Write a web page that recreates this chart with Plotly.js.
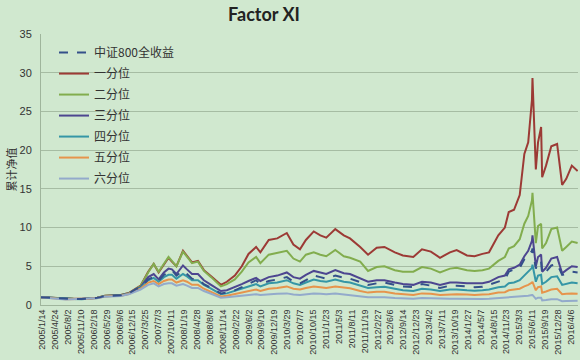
<!DOCTYPE html>
<html>
<head>
<meta charset="utf-8">
<script src="https://cdn.plot.ly/plotly-3.0.1.min.js"></script>
<style>html,body{margin:0;padding:0;background:#d0e8cf;}#chart{width:580px;height:360px;}</style>
</head>
<body>
<div id="chart"></div>
<script>
const dates = ["2005-01-04","2005-03-01","2005-05-01","2005-07-15","2005-09-15","2005-11-15","2006-01-15","2006-03-15","2006-05-15","2006-07-15","2006-09-15","2006-11-15","2007-01-15","2007-02-15","2007-04-15","2007-05-28","2007-07-05","2007-08-15","2007-09-20","2007-10-16","2007-11-20","2008-01-10","2008-02-10","2008-03-20","2008-05-05","2008-06-20","2008-08-15","2008-10-30","2008-12-15","2009-02-15","2009-04-10","2009-06-01","2009-07-30","2009-09-01","2009-11-05","2010-01-10","2010-03-25","2010-05-15","2010-07-05","2010-08-20","2010-10-20","2010-12-10","2011-01-25","2011-04-05","2011-06-10","2011-07-28","2011-10-15","2011-12-15","2012-02-20","2012-04-20","2012-07-10","2012-09-10","2012-11-30","2013-02-05","2013-04-15","2013-06-25","2013-09-10","2013-11-01","2014-01-20","2014-03-20","2014-05-20","2014-07-10","2014-09-20","2014-11-10","2014-12-10","2015-01-20","2015-03-05","2015-04-10","2015-05-10","2015-06-08","2015-06-12","2015-07-08","2015-07-25","2015-08-18","2015-08-26","2015-09-25","2015-11-05","2015-12-20","2016-01-28","2016-02-29","2016-04-12","2016-05-27"];

const bench = [1.0,0.95,0.84,0.75,0.78,0.76,0.84,0.92,1.15,1.2,1.25,1.5,2.1,2.25,3.3,3.6,3.1,3.9,4.3,4.5,3.8,4.4,4.0,3.4,3.3,2.7,2.2,1.5,1.6,1.9,2.3,2.7,3.2,2.7,3.1,3.3,3.6,3.0,2.8,3.2,3.8,3.6,3.4,3.8,3.5,3.4,2.9,2.6,2.8,2.9,2.6,2.4,2.3,2.7,2.5,2.2,2.5,2.5,2.4,2.3,2.35,2.6,3.0,3.3,4.3,4.6,4.8,5.9,6.3,7.0,7.3,4.7,5.7,5.6,4.0,4.3,5.1,5.3,3.9,4.0,4.3,4.2];
const q1 = [1.0,0.95,0.88,0.78,0.82,0.8,0.88,0.95,1.2,1.25,1.3,1.55,2.2,2.5,4.3,5.3,4.2,5.2,6.1,5.6,5.0,7.0,6.3,5.5,5.7,4.5,3.7,2.6,3.0,3.8,5.0,6.6,7.5,6.8,8.4,8.6,9.3,7.8,7.2,8.4,9.5,9.0,8.7,9.8,9.0,8.6,7.5,6.5,7.4,7.5,6.8,6.4,6.2,7.2,6.9,6.1,6.8,7.1,6.4,6.3,6.6,6.8,9.0,10.0,12.0,12.3,14.2,19.5,21.0,26.5,29.3,17.5,21.0,23.0,16.5,18.0,20.5,20.8,15.5,16.3,18.0,17.3];
const q2 = [1.0,0.95,0.86,0.76,0.8,0.78,0.86,0.93,1.18,1.22,1.28,1.52,2.15,2.45,4.2,5.3,4.3,5.3,6.2,5.7,5.0,6.9,6.2,5.4,5.6,4.4,3.6,2.4,2.7,3.3,4.3,5.5,6.2,5.4,6.5,6.7,7.0,6.0,5.6,6.5,6.8,6.5,6.3,7.1,6.3,6.1,5.6,4.4,4.9,5.0,4.5,4.3,4.3,4.9,4.7,4.2,4.7,4.8,4.5,4.4,4.5,4.7,5.7,6.2,7.3,7.6,8.5,10.5,11.5,13.5,14.5,8.0,10.2,10.5,7.3,8.0,9.8,10.0,7.0,7.5,8.2,8.0];
const q3 = [1.0,0.95,0.85,0.75,0.78,0.76,0.84,0.92,1.15,1.2,1.25,1.48,2.05,2.3,3.6,4.0,3.3,4.2,4.7,4.6,4.0,5.1,4.6,4.0,4.0,3.2,2.6,1.8,1.9,2.3,2.7,3.1,3.5,3.1,3.6,3.8,4.2,3.6,3.4,3.9,4.4,4.2,4.0,4.5,4.1,4.0,3.4,3.0,3.2,3.2,2.9,2.7,2.6,3.0,2.9,2.6,2.9,2.9,2.8,2.8,2.8,3.0,3.6,3.8,4.6,4.8,5.2,6.3,7.0,8.3,9.0,5.0,6.2,6.5,4.3,4.8,6.0,6.2,4.1,4.5,5.0,4.9];
const q4 = [1.0,0.95,0.84,0.74,0.77,0.75,0.83,0.91,1.13,1.18,1.22,1.45,2.0,2.2,3.2,3.5,3.0,3.6,3.9,3.9,3.4,4.0,3.7,3.2,3.2,2.6,2.1,1.4,1.5,1.8,2.1,2.4,2.7,2.4,2.8,2.9,3.2,2.8,2.6,2.9,3.3,3.1,3.0,3.3,3.0,2.9,2.5,2.2,2.3,2.35,2.1,1.9,1.8,2.1,2.0,1.8,2.0,2.0,1.9,1.85,1.9,2.0,2.3,2.4,2.8,2.9,3.2,3.8,4.2,4.8,5.2,3.0,3.8,3.9,2.7,3.0,3.6,3.7,2.6,2.7,2.9,2.8];
const q5 = [1.0,0.95,0.83,0.73,0.76,0.74,0.82,0.9,1.1,1.15,1.2,1.42,1.95,2.1,2.9,3.1,2.7,3.1,3.3,3.3,2.9,3.2,3.0,2.6,2.6,2.1,1.7,1.1,1.2,1.4,1.6,1.8,2.0,1.8,2.1,2.2,2.4,2.1,2.0,2.2,2.4,2.3,2.2,2.4,2.2,2.15,1.8,1.6,1.7,1.7,1.5,1.4,1.3,1.5,1.45,1.3,1.4,1.4,1.35,1.3,1.35,1.4,1.6,1.65,1.9,1.95,2.1,2.4,2.6,2.9,3.0,1.9,2.3,2.4,1.6,1.75,2.0,2.1,1.4,1.45,1.5,1.45];
const q6 = [1.0,0.95,0.82,0.72,0.75,0.73,0.8,0.88,1.08,1.12,1.15,1.38,1.85,2.0,2.6,2.8,2.4,2.7,2.8,2.8,2.5,2.7,2.5,2.2,2.2,1.8,1.45,0.95,1.0,1.1,1.2,1.3,1.4,1.3,1.4,1.45,1.5,1.35,1.3,1.4,1.5,1.45,1.4,1.5,1.35,1.3,1.1,1.0,1.0,1.0,0.9,0.85,0.8,0.9,0.85,0.78,0.82,0.82,0.78,0.76,0.77,0.8,0.9,0.9,1.0,1.0,1.05,1.15,1.2,1.3,1.3,0.8,0.95,0.95,0.6,0.65,0.75,0.75,0.5,0.52,0.55,0.55];

const names = ["中证800全收益","一分位","二分位","三分位","四分位","五分位","六分位"];
const series = [bench,q1,q2,q3,q4,q5,q6];
const colors = ["#34508a","#9c3a35","#82ad4e","#4d4690","#3596a6","#e6944c","#93aacb"];

const traces = series.map((vals,i)=>({
  type:'scatter', mode:'lines', x:dates, y:vals, name:names[i],
  legendgroup:'g'+i, legendrank:i+1,
  line:{color:colors[i], width:2, dash: i===0?'dash':'solid'}
}));
// draw benchmark on top of quantile lines but keep it first in legend
const plotOrder = traces.slice(1).concat([traces[0]]);

const layout = {
  width:580, height:360,
  paper_bgcolor:'#d0e8cf', plot_bgcolor:'#d0e8cf',
  margin:{l:41, r:2, t:34, b:55},
  font:{family:'Noto Sans CJK SC, Lato, sans-serif', color:'#333'},
  title:{text:'<b>Factor XI</b>', x:264/580, xanchor:'center', xref:'container',
         y:1-15/360, yanchor:'middle', yref:'container',
         font:{family:'Lato, Open Sans, sans-serif', size:18, color:'#222'}},
  xaxis:{type:'date', range:['2005-01-04','2016-05-30'],
         tick0:'2005-01-14', dtick:100*86400000, tickformat:'%Y/%-m/%-d',
         tickangle:-90, tickfont:{size:9, color:'#333', family:'Liberation Sans, Arial, sans-serif'},
         showgrid:false, zeroline:false, showline:true, linecolor:'#9fb59c', linewidth:1,
         ticks:'', automargin:false},
  yaxis:{range:[0,35], dtick:5, tick0:0, showgrid:true, gridcolor:'#a6bca3', gridwidth:1,
         zeroline:false, showline:true, linecolor:'#9fb59c', linewidth:1, ticks:'',
         tickfont:{size:11, color:'#333', family:'Liberation Sans, Arial, sans-serif'},
         ticklabelstandoff:6, automargin:false},
  legend:{x:13/537, xanchor:'left', y:0.985, yanchor:'top', bgcolor:'rgba(0,0,0,0)',
          borderwidth:0, font:{size:12, color:'#333'}, traceorder:'grouped', tracegroupgap:2},
  showlegend:true,
  annotations:[{text:'累计净值', xref:'paper', yref:'paper', x:(10-41)/537, y:0.5,
                xanchor:'center', yanchor:'middle', textangle:-90, showarrow:false,
                font:{size:11, color:'#333', family:'Noto Sans CJK SC, sans-serif'}}]
};

Plotly.newPlot('chart', plotOrder, layout, {displayModeBar:false, staticPlot:true});
</script>
</body>
</html>
